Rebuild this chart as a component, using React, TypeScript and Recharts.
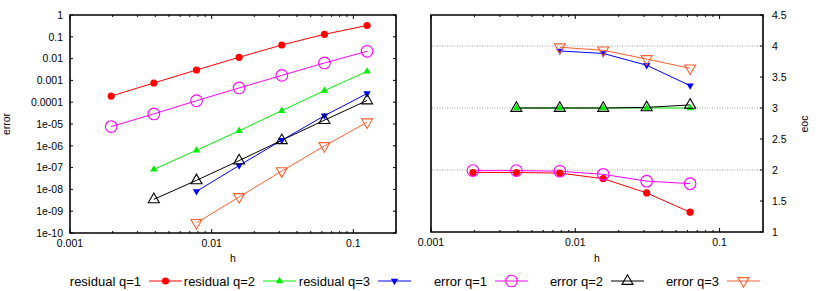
import { LineChart, Line, XAxis, YAxis, ReferenceArea, ReferenceLine, Label } from 'recharts';

// mesh sizes h = 1/512 ... 1/8
const hValues = [0.001953125, 0.00390625, 0.0078125, 0.015625, 0.03125, 0.0625, 0.125];

// left panel: error vs h
const residualQ1 = [1.9e-4, 7.6e-4, 3.0e-3, 0.0115, 0.042, 0.13, 0.33];
const residualQ2 = [null, 8.3e-8, 6.2e-7, 4.9e-6, 4.1e-5, 3.4e-4, 2.6e-3];
const residualQ3 = [null, null, 8.1e-9, 1.25e-7, 1.8e-6, 2.4e-5, 2.5e-4];
const errorQ1 = [7.6e-6, 2.9e-5, 1.17e-4, 4.5e-4, 1.7e-3, 6.3e-3, 0.0216];
const errorQ2 = [null, 3.5e-9, 2.6e-8, 2.1e-7, 1.8e-6, 1.5e-5, 1.2e-4];
const errorQ3 = [null, null, 2.9e-10, 4.5e-9, 6.9e-8, 9.8e-7, 1.2e-5];

// right panel: eoc vs h
const eocH = [0.001953125, 0.00390625, 0.0078125, 0.015625, 0.03125, 0.0625];
const eocResidualQ1 = [1.96, 1.96, 1.95, 1.86, 1.63, 1.32];
const eocResidualQ2 = [null, 3.0, 3.0, 3.0, 3.0, 3.0];
const eocResidualQ3 = [null, null, 3.92, 3.88, 3.69, 3.36];
const eocErrorQ1 = [1.99, 1.99, 1.98, 1.93, 1.82, 1.78];
const eocErrorQ2 = [null, 3.0, 3.0, 3.0, 3.01, 3.05];
const eocErrorQ3 = [null, null, 3.98, 3.93, 3.79, 3.64];

// ticks
const xTicks = [0.001, 0.002, 0.003, 0.004, 0.005, 0.006, 0.007, 0.008, 0.009,
    0.01, 0.02, 0.03, 0.04, 0.05, 0.06, 0.07, 0.08, 0.09, 0.1, 0.2];
const xMajor = [0.001, 0.01, 0.1];
const errorTicks = [1, 0.1, 0.01, 0.001, 0.0001, 1e-5, 1e-6, 1e-7, 1e-8, 1e-9, 1e-10];
const errorTickLabels = ['1', '0.1', '0.01', '0.001', '0.0001', '1e-05', '1e-06', '1e-07', '1e-08', '1e-09', '1e-10'];
const eocTicks = [1, 1.5, 2, 2.5, 3, 3.5, 4, 4.5];
const eocGrid = [2, 3, 4];

const seriesNames = ['residual q=1', 'residual q=2', 'residual q=3', 'error q=1', 'error q=2', 'error q=3'];
const seriesKeys = ['r1', 'r2', 'r3', 'e1', 'e2', 'e3'];
const COLORS = ['#ff0000', '#00ee00', '#0000ff', '#ff00ff', '#000000', '#ff6030'];
const SHAPES = ['dot', 'up', 'down', 'ring', 'upOpen', 'downOpen'];

const errorRows = hValues.map((h, i) => ({
    h,
    r1: residualQ1[i], r2: residualQ2[i], r3: residualQ3[i],
    e1: errorQ1[i], e2: errorQ2[i], e3: errorQ3[i],
}));
const eocRows = eocH.map((h, i) => ({
    h,
    r1: eocResidualQ1[i], r2: eocResidualQ2[i], r3: eocResidualQ3[i],
    e1: eocErrorQ1[i], e2: eocErrorQ2[i], e3: eocErrorQ3[i],
}));

const FONT = '"Liberation Sans", Arial, sans-serif';
const TICK_FS = 10.5;

// plot boxes (chart-local coordinates)
const LBOX = { left: 70, right: 396, top: 15, bottom: 233 };
const RBOX = { left: 16, right: 348, top: 15, bottom: 232 };

function Marker({ cx, cy, shape, color }: any) {
    if (cx == null || cy == null || isNaN(cy)) return null;
    const tri = (s: number, up: boolean) => {
        const d = up ? 1 : -1;
        return `${cx},${cy - d * 1.3 * s} ${cx - 1.15 * s},${cy + d * 0.7 * s} ${cx + 1.15 * s},${cy + d * 0.7 * s}`;
    };
    switch (shape) {
        case 'dot':
            return <circle cx={cx} cy={cy} r={3.6} fill={color} />;
        case 'ring':
            return <circle cx={cx} cy={cy} r={5.8} fill="none" stroke={color} strokeWidth={1.1} />;
        case 'up':
            return <polygon points={tri(3.2, true)} fill={color} />;
        case 'down':
            return <polygon points={tri(3.2, false)} fill={color} />;
        case 'upOpen':
            return <polygon points={tri(4.8, true)} fill="none" stroke={color} strokeWidth={1.1} />;
        case 'downOpen':
            return <polygon points={tri(4.8, false)} fill="none" stroke={color} strokeWidth={1.1} />;
    }
    return null;
}

const makeXTick = (box: typeof LBOX) => (props: any) => {
    const { x, payload } = props;
    const v = payload.value;
    const major = xMajor.includes(v);
    const len = major ? 4 : 2;
    return (
        <g>
            <line x1={x} x2={x} y1={box.bottom} y2={box.bottom - len} stroke="#000" />
            <line x1={x} x2={x} y1={box.top} y2={box.top + len} stroke="#000" />
            {major && (
                <text x={x} y={box.bottom + 14} textAnchor="middle" fontSize={TICK_FS} fontFamily={FONT} fill="#000">
                    {String(v)}
                </text>
            )}
        </g>
    );
};

const ErrorYTick = (props: any) => {
    const { y, payload } = props;
    const idx = errorTicks.indexOf(payload.value);
    return (
        <g>
            <line x1={LBOX.left} x2={LBOX.left + 3} y1={y} y2={y} stroke="#000" />
            <line x1={LBOX.right} x2={LBOX.right - 3} y1={y} y2={y} stroke="#000" />
            <text x={LBOX.left - 7} y={y + 3.7} textAnchor="end" fontSize={TICK_FS} fontFamily={FONT} fill="#000">
                {idx >= 0 ? errorTickLabels[idx] : ''}
            </text>
        </g>
    );
};

const EocYTick = (props: any) => {
    const { y, payload } = props;
    return (
        <g>
            <line x1={RBOX.right} x2={RBOX.right - 3} y1={y} y2={y} stroke="#000" />
            <text x={RBOX.right + 9} y={y + 3.7} textAnchor="start" fontSize={TICK_FS} fontFamily={FONT} fill="#000">
                {String(payload.value)}
            </text>
        </g>
    );
};

function renderLines() {
    return seriesKeys.map((k, i) => (
        <Line
            key={k}
            dataKey={k}
            name={seriesNames[i]}
            stroke={COLORS[i]}
            strokeWidth={1}
            isAnimationActive={false}
            connectNulls={false}
            dot={(p: any) => <Marker key={`${k}-${p.index}`} cx={p.cx} cy={p.cy} shape={SHAPES[i]} color={COLORS[i]} />}
            activeDot={false}
        />
    ));
}

function ErrorChart() {
    return (
        <LineChart width={415} height={291} data={errorRows} margin={{ top: 15, right: 19, left: 0, bottom: 26 }}>
            <XAxis dataKey="h" type="number" scale="log" domain={[0.001, 0.2]} allowDataOverflow
                ticks={xTicks} interval={0} tick={makeXTick(LBOX)} tickLine={false} axisLine={false} height={32}>
                <Label content={() => (
                    <text x={(LBOX.left + LBOX.right) / 2} y={262} textAnchor="middle" fontSize={TICK_FS} fontFamily={FONT} fill="#000">h</text>
                )} />
            </XAxis>
            <YAxis type="number" scale="log" domain={[1e-10, 1]} allowDataOverflow
                ticks={errorTicks} interval={0} tick={ErrorYTick} tickLine={false} axisLine={false} width={70}>
                <Label content={() => (
                    <text x={10} y={124} transform="rotate(-90 10 124)" textAnchor="middle" fontSize={TICK_FS} fontFamily={FONT} fill="#000">error</text>
                )} />
            </YAxis>
            <ReferenceArea x1={0.001} x2={0.2} y1={1e-10} y2={1} fill="none" fillOpacity={0} stroke="#000" strokeWidth={1.6} ifOverflow="visible" />
            {renderLines()}
        </LineChart>
    );
}

function EocChart() {
    return (
        <LineChart width={415} height={291} data={eocRows} margin={{ top: 15, right: 17, left: 16, bottom: 27 }}>
            <XAxis dataKey="h" type="number" scale="log" domain={[0.001, 0.2]} allowDataOverflow
                ticks={xTicks} interval={0} tick={makeXTick(RBOX)} tickLine={false} axisLine={false} height={32}>
                <Label content={() => (
                    <text x={(RBOX.left + RBOX.right) / 2} y={262} textAnchor="middle" fontSize={TICK_FS} fontFamily={FONT} fill="#000">h</text>
                )} />
            </XAxis>
            <YAxis orientation="right" type="number" domain={[1, 4.5]} allowDataOverflow
                ticks={eocTicks} interval={0} tick={EocYTick} tickLine={false} axisLine={false} width={50}>
                <Label content={() => (
                    <text x={393} y={124} transform="rotate(-90 393 124)" textAnchor="middle" fontSize={TICK_FS} fontFamily={FONT} fill="#000">eoc</text>
                )} />
            </YAxis>
            {eocGrid.map((g) => (
                <ReferenceLine key={g} y={g} stroke="#888" strokeWidth={0.8} strokeDasharray="1 1.5" />
            ))}
            <ReferenceArea x1={0.001} x2={0.2} y1={1} y2={4.5} fill="none" fillOpacity={0} stroke="#000" strokeWidth={1.6} ifOverflow="visible" />
            {renderLines()}
        </LineChart>
    );
}

const legendSampleStart = [149, 263, 378, 495, 611, 727];

function KeyBox() {
    const y = 281;
    return (
        <svg width={830} height={291} style={{ position: 'absolute', left: 0, top: 0, pointerEvents: 'none' }}>
            {seriesNames.map((name, i) => {
                const x0 = legendSampleStart[i];
                return (
                    <g key={name}>
                        <text x={x0 - 8} y={y + 4.5} textAnchor="end" fontSize={13} fontFamily={FONT} fill="#000">{name}</text>
                        <line x1={x0} x2={x0 + 33} y1={y} y2={y} stroke={COLORS[i]} strokeWidth={1} />
                        <Marker cx={x0 + 16.5} cy={y} shape={SHAPES[i]} color={COLORS[i]} />
                    </g>
                );
            })}
        </svg>
    );
}

export default function App() {
    return (
        <div style={{ position: 'absolute', left: 0, top: 0, width: 830, height: 291, background: '#fff' }}>
            <div style={{ position: 'absolute', left: 0, top: 0 }}>
                <ErrorChart />
            </div>
            <div style={{ position: 'absolute', left: 415, top: 0 }}>
                <EocChart />
            </div>
            <KeyBox />
        </div>
    );
}
